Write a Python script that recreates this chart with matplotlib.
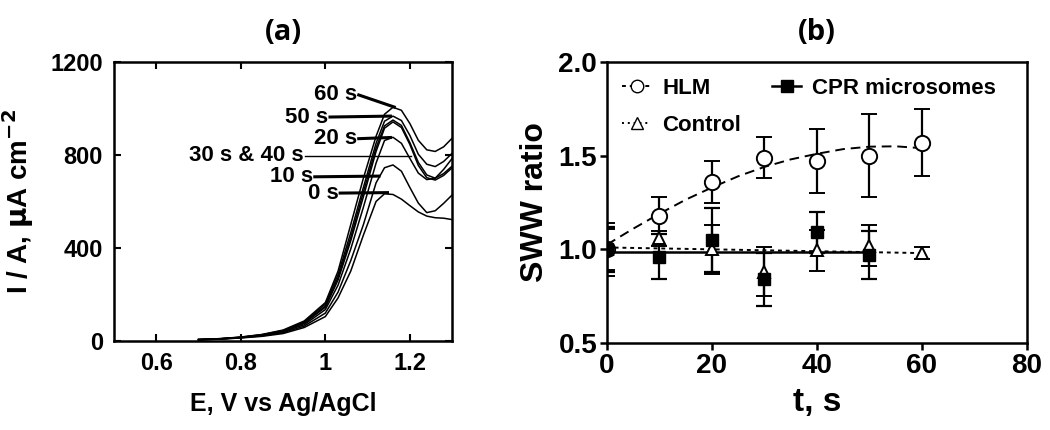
import matplotlib
matplotlib.use("Agg")
from matplotlib import pyplot as plt
from matplotlib.lines import Line2D

plt.rcParams["font.family"] = ["Liberation Sans", "DejaVu Sans"]
plt.rcParams["font.weight"] = "bold"

# ---- panel (a): SWV curves, I vs E ----
E = [0.70, 0.75, 0.80, 0.85, 0.90, 0.95, 1.00, 1.03, 1.06, 1.09,
     1.12, 1.14, 1.16, 1.18, 1.20, 1.22, 1.24, 1.26, 1.28, 1.30]
I_0s = [5, 8, 13, 20, 32, 58, 105, 185, 300, 455,
        600, 633, 630, 610, 582, 555, 537, 530, 528, 522]
I_10s = [5, 8, 14, 22, 36, 64, 120, 210, 345, 500,
         680, 745, 757, 730, 660, 593, 552, 560, 592, 628]
I_20s = [6, 9, 15, 24, 40, 70, 135, 240, 395, 575,
         765, 862, 876, 850, 785, 722, 694, 700, 738, 785]
I_30s = [6, 9, 15, 25, 42, 76, 145, 262, 430, 620,
         815, 915, 942, 918, 845, 755, 702, 692, 712, 745]
I_40s = [6, 9, 16, 26, 43, 78, 150, 272, 445, 640,
         830, 925, 950, 927, 853, 768, 714, 700, 720, 752]
I_50s = [6, 10, 16, 27, 45, 82, 158, 285, 465, 660,
         850, 945, 967, 948, 884, 803, 760, 750, 772, 807]
I_60s = [7, 10, 17, 28, 47, 86, 165, 300, 500, 700,
         880, 975, 1005, 992, 935, 863, 822, 815, 835, 872]

# labels: text, text anchor (E, I), leader line end E, line end I
curve_labels = ["60 s", "50 s", "20 s", "30 s & 40 s", "10 s", "0 s"]
label_E = [1.075, 1.007, 1.075, 0.949, 0.971, 1.031]
label_I = [1058, 963, 870, 797, 706, 636]
leader_E = [1.163, 1.154, 1.154, 1.203, 1.127, 1.147]
leader_I = [1006, 967, 875, 797, 709, 638]

# ---- panel (b): SWV ratio vs time ----
t = [0, 10, 20, 30, 40, 50, 60]
hlm = [1.0, 1.18, 1.36, 1.49, 1.47, 1.50, 1.57]
hlm_err = [0.14, 0.10, 0.11, 0.11, 0.17, 0.22, 0.18]
control = [1.0, 1.06, 1.0, 0.88, 0.995, 1.02, 0.98]
control_err = [0.11, 0.04, 0.13, 0.13, 0.11, 0.11, 0.03]
t_cpr = [0, 10, 20, 30, 40, 50]
cpr = [1.0, 0.96, 1.05, 0.84, 1.09, 0.97]
cpr_err = [0.12, 0.12, 0.17, 0.14, 0.11, 0.13]

t_fit = [0, 5, 10, 15, 20, 25, 30, 35, 40, 45, 50, 55, 60]
hlm_fit = [1.025, 1.11, 1.19, 1.265, 1.33, 1.39, 1.44, 1.48, 1.51,
           1.535, 1.548, 1.55, 1.54]
t_ctrl_fit = [0, 60]
ctrl_fit = [1.01, 0.98]
t_cpr_fit = [0, 50]
cpr_fit = [0.987, 0.987]

fig = plt.figure(figsize=(10.5, 4.3), dpi=100)
ax1 = fig.add_axes([0.1086, 0.207, 0.322, 0.649])
ax2 = fig.add_axes([0.578, 0.2023, 0.400, 0.6535])

for curve in [I_0s, I_10s, I_20s, I_30s, I_40s, I_50s, I_60s]:
    ax1.plot(E, curve, color="black", lw=1.1)

for txt, xe, yi, le, li in zip(curve_labels, label_E, label_I, leader_E, leader_I):
    ax1.text(xe, yi, txt, ha="right", va="center", fontsize=16, fontweight="bold")
    lw = 1.0 if "&" in txt else 2.2
    ax1.plot([xe + 0.004, le], [yi, li], color="black", lw=lw)

ax1.set_xlim(0.5, 1.3)
ax1.set_ylim(0, 1200)
ax1.set_xticks([0.6, 0.8, 1.0, 1.2])
ax1.set_xticklabels(["0.6", "0.8", "1", "1.2"])
ax1.set_yticks([0, 400, 800, 1200])
ax1.tick_params(direction="in", top=True, right=True, length=5, width=1.5,
                labelsize=17, pad=8)
for s in ax1.spines.values():
    s.set_linewidth(1.8)
ax1.set_xlabel("E, V vs Ag/AgCl", fontsize=18, fontweight="bold", labelpad=12)
ax1.set_ylabel(r"I / A, $\mathbf{\mu}$A cm$^{\mathbf{-2}}$", fontsize=20,
               fontweight="bold", labelpad=10)
ax1.set_title("(a)", fontsize=21, fontweight="bold", family="Open Sans", pad=16)

# panel (b)
ax2.plot(t_fit, hlm_fit, color="black", lw=1.4, ls=(0, (5, 3)))
ax2.plot(t_ctrl_fit, ctrl_fit, color="black", lw=1.4, ls=(0, (2, 2)))
ax2.plot(t_cpr_fit, cpr_fit, color="black", lw=1.8, ls="-")
ax2.errorbar(t, hlm, yerr=hlm_err, fmt="o", ms=11, mfc="white", mec="black",
             mew=1.4, ecolor="black", elinewidth=1.6, capsize=6, capthick=1.6)
ax2.errorbar(t, control, yerr=control_err, fmt="^", ms=9, mfc="white", mec="black",
             mew=1.4, ecolor="black", elinewidth=1.6, capsize=6, capthick=1.6)
ax2.errorbar(t_cpr, cpr, yerr=cpr_err, fmt="s", ms=8.5, mfc="black", mec="black",
             ecolor="black", elinewidth=1.6, capsize=6, capthick=1.6)

handles = [
    Line2D([], [], color="black", ls=(0, (2, 2)), lw=1.4, marker="o", ms=9,
           mfc="white", mec="black"),
    Line2D([], [], color="black", ls=(0, (1, 2)), lw=1.4, marker="^", ms=8,
           mfc="white", mec="black"),
    Line2D([], [], color="black", ls="-", lw=1.8, marker="s", ms=8,
           mfc="black", mec="black"),
]
ax2.legend(handles, ["HLM", "Control", "CPR microsomes"], ncol=2, loc="upper left",
           frameon=False, handlelength=1.3, handletextpad=0.5,
           columnspacing=1.4, labelspacing=0.75, borderaxespad=0.3,
           prop={"weight": "bold", "size": 16})

ax2.set_xlim(0, 80)
ax2.set_ylim(0.5, 2.0)
ax2.set_xticks([0, 20, 40, 60, 80])
ax2.set_yticks([0.5, 1.0, 1.5, 2.0])
ax2.set_yticklabels(["0.5", "1.0", "1.5", "2.0"])
ax2.tick_params(direction="out", length=5, width=1.8, labelsize=20, pad=2)
for s in ax2.spines.values():
    s.set_linewidth(1.8)
ax2.set_xlabel("t, s", fontsize=24, fontweight="bold", labelpad=6)
ax2.set_ylabel("SWW ratio", fontsize=23, fontweight="bold", labelpad=6)
ax2.set_title("(b)", fontsize=21, fontweight="bold", family="Open Sans", pad=16)

fig.savefig("out.png", dpi=100)
